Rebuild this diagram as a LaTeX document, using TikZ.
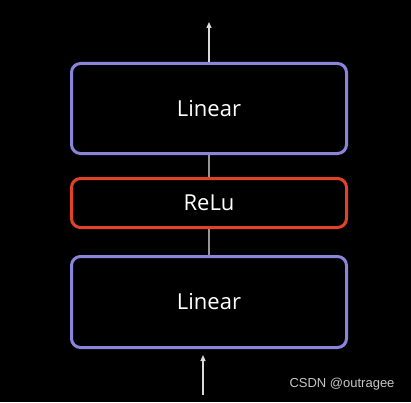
\documentclass[tikz,border=0pt]{standalone}
\usepackage{fontspec}
\setmainfont{Open Sans}
\newfontfamily\markfont{Liberation Sans}
\usetikzlibrary{arrows.meta}
\definecolor{boxblue}{RGB}{137,133,218}
\definecolor{boxred}{RGB}{226,66,40}
\definecolor{wire}{RGB}{150,150,150}
\begin{document}
\begin{tikzpicture}[x=1pt,y=1pt,
  layer/.style={draw=boxblue, line width=3pt, rounded corners=9pt, minimum width=275pt, text=white, font=\fontsize{22}{26}\selectfont},
  act/.style={draw=boxred, line width=3pt, rounded corners=9pt, minimum width=275pt, minimum height=49pt, text=white, font=\fontsize{22}{26}\selectfont},
  wirearrow/.style={-{Triangle[length=6pt,width=5pt]}, draw=white!85!black, line width=1.2pt}]
\fill[black] (0,0) rectangle (411,402);
\useasboundingbox (0,0) rectangle (411,402);

\node[layer, minimum height=90pt](A) at (209,293.5) {Linear};
\node[act](B) at (209,199) {ReLu};
\node[layer, minimum height=91pt](C) at (209,100) {Linear};

\coordinate (In) at (203,7);
\coordinate (InTip) at (203,47);
\coordinate (Out) at (209,380);

\draw[wire, line width=1.2pt] (C) -- (B);
\draw[wire, line width=1.2pt] (B) -- (A);
\draw[wirearrow] (In) -- (InTip);
\draw[wirearrow] (A) -- (Out);

\node[text=white!78!black, font=\markfont\fontsize{13}{15}\selectfont](W) at (342,18) {CSDN @outragee};
\end{tikzpicture}
\end{document}
